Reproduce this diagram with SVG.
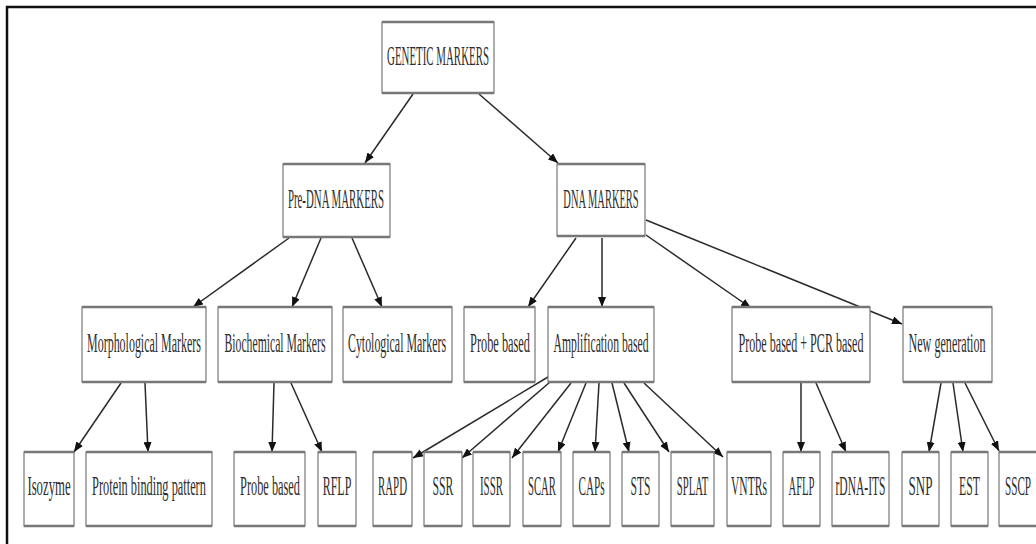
<svg xmlns="http://www.w3.org/2000/svg" width="1036" height="544" viewBox="0 0 1036 544">
<style>
.frame{fill:none;stroke:#111;stroke-width:2.5}
.box{fill:#fff;stroke:#777;stroke-width:1.2}
.edge{stroke:#777;stroke-width:2.6}
.lbl{font-family:"Liberation Serif",serif;font-size:28px;fill:#2e2e2e;text-anchor:middle}
.conn line{stroke:#2a2a2a;stroke-width:1.5;marker-end:url(#ah)}
</style>
<defs>
<marker id="ah" markerUnits="userSpaceOnUse" markerWidth="10" markerHeight="8" viewBox="0 0 10 8" refX="10" refY="4" orient="auto">
<path d="M0,0 L10,4 L0,8 z" fill="#111"/>
</marker>
</defs>
<rect x="0" y="0" width="1036" height="544" fill="#fff"/>
<rect class="frame" x="7" y="7" width="1045" height="560"/>

<g id="connectors" class="conn">
<line x1="413" y1="94" x2="365" y2="163"/>
<line x1="479" y1="94" x2="558" y2="163"/>
<line x1="289" y1="238" x2="193" y2="307"/>
<line x1="321" y1="238" x2="292" y2="307"/>
<line x1="352" y1="238" x2="382" y2="307"/>
<line x1="576" y1="238" x2="528" y2="307"/>
<line x1="602" y1="238" x2="602" y2="307"/>
<line x1="646" y1="235" x2="751" y2="308"/>
<line x1="646" y1="220" x2="902" y2="324"/>
<line x1="121" y1="383" x2="74" y2="452"/>
<line x1="145" y1="383" x2="148" y2="452"/>
<line x1="274" y1="383" x2="272" y2="452"/>
<line x1="291" y1="383" x2="322" y2="452"/>
<line x1="548" y1="377" x2="413" y2="458"/>
<line x1="550" y1="382" x2="462" y2="458"/>
<line x1="571" y1="383" x2="512" y2="458"/>
<line x1="586" y1="383" x2="558" y2="452"/>
<line x1="599" y1="383" x2="595" y2="452"/>
<line x1="612" y1="383" x2="629" y2="452"/>
<line x1="624" y1="383" x2="669" y2="452"/>
<line x1="644" y1="383" x2="723" y2="457"/>
<line x1="801" y1="383" x2="801" y2="452"/>
<line x1="816" y1="383" x2="846" y2="452"/>
<line x1="941" y1="383" x2="929" y2="452"/>
<line x1="953" y1="383" x2="963" y2="452"/>
<line x1="965" y1="383" x2="999" y2="451"/>
</g>

<g id="n-genetic"><rect class="box" x="382" y="22" width="112" height="71"/><line class="edge" x1="382" y1="22" x2="494" y2="22"/><line class="edge" x1="382" y1="93" x2="494" y2="93"/><text class="lbl" transform="translate(438,65) scale(0.389,1)">GENETIC MARKERS</text></g>
<g id="n-predna"><rect class="box" x="283" y="164" width="107" height="73"/><line class="edge" x1="283" y1="164" x2="390" y2="164"/><line class="edge" x1="283" y1="237" x2="390" y2="237"/><text class="lbl" transform="translate(336,208) scale(0.388,1)">Pre-DNA MARKERS</text></g>
<g id="n-dna"><rect class="box" x="557" y="164" width="88" height="72"/><line class="edge" x1="557" y1="164" x2="645" y2="164"/><line class="edge" x1="557" y1="236" x2="645" y2="236"/><text class="lbl" transform="translate(601,208) scale(0.374,1)">DNA MARKERS</text></g>

<g id="n-morph"><rect class="box" x="82" y="307" width="124" height="75"/><line class="edge" x1="82" y1="307" x2="206" y2="307"/><line class="edge" x1="82" y1="382" x2="206" y2="382"/><text class="lbl" transform="translate(144,352) scale(0.427,1)">Morphological Markers</text></g>
<g id="n-bio"><rect class="box" x="218" y="307" width="114" height="75"/><line class="edge" x1="218" y1="307" x2="332" y2="307"/><line class="edge" x1="218" y1="382" x2="332" y2="382"/><text class="lbl" transform="translate(275,352) scale(0.418,1)">Biochemical Markers</text></g>
<g id="n-cyto"><rect class="box" x="343" y="307" width="109" height="75"/><line class="edge" x1="343" y1="307" x2="452" y2="307"/><line class="edge" x1="343" y1="382" x2="452" y2="382"/><text class="lbl" transform="translate(397,352) scale(0.425,1)">Cytological Markers</text></g>
<g id="n-probe1"><rect class="box" x="464" y="307" width="71" height="75"/><line class="edge" x1="464" y1="307" x2="535" y2="307"/><line class="edge" x1="464" y1="382" x2="535" y2="382"/><text class="lbl" transform="translate(500,352) scale(0.441,1)">Probe based</text></g>
<g id="n-amp"><rect class="box" x="548" y="307" width="106" height="75"/><line class="edge" x1="548" y1="307" x2="654" y2="307"/><line class="edge" x1="548" y1="382" x2="654" y2="382"/><text class="lbl" transform="translate(601,352) scale(0.417,1)">Amplification based</text></g>
<g id="n-probepcr"><rect class="box" x="732" y="307" width="138" height="75"/><line class="edge" x1="732" y1="307" x2="870" y2="307"/><line class="edge" x1="732" y1="382" x2="870" y2="382"/><text class="lbl" transform="translate(801,352) scale(0.432,1)">Probe based + PCR based</text></g>
<g id="n-newgen"><rect class="box" x="903" y="307" width="89" height="75"/><line class="edge" x1="903" y1="307" x2="992" y2="307"/><line class="edge" x1="903" y1="382" x2="992" y2="382"/><text class="lbl" transform="translate(947,352) scale(0.433,1)">New generation</text></g>

<g id="n-isozyme"><rect class="box" x="24" y="452" width="50" height="74"/><line class="edge" x1="24" y1="452" x2="74" y2="452"/><line class="edge" x1="24" y1="526" x2="74" y2="526"/><text class="lbl" transform="translate(49,495) scale(0.455,1)">Isozyme</text></g>
<g id="n-protein"><rect class="box" x="86" y="452" width="126" height="74"/><line class="edge" x1="86" y1="452" x2="212" y2="452"/><line class="edge" x1="86" y1="526" x2="212" y2="526"/><text class="lbl" transform="translate(149,495) scale(0.441,1)">Protein binding pattern</text></g>
<g id="n-probe2"><rect class="box" x="234" y="452" width="71" height="74"/><line class="edge" x1="234" y1="452" x2="305" y2="452"/><line class="edge" x1="234" y1="526" x2="305" y2="526"/><text class="lbl" transform="translate(270,495) scale(0.441,1)">Probe based</text></g>
<g id="n-rflp"><rect class="box" x="318" y="452" width="38" height="74"/><line class="edge" x1="318" y1="452" x2="356" y2="452"/><line class="edge" x1="318" y1="526" x2="356" y2="526"/><text class="lbl" transform="translate(337,495) scale(0.427,1)">RFLP</text></g>
<g id="n-rapd"><rect class="box" x="373" y="452" width="39" height="74"/><line class="edge" x1="373" y1="452" x2="412" y2="452"/><line class="edge" x1="373" y1="526" x2="412" y2="526"/><text class="lbl" transform="translate(392.5,495) scale(0.39,1)">RAPD</text></g>
<g id="n-ssr"><rect class="box" x="424" y="452" width="38" height="74"/><line class="edge" x1="424" y1="452" x2="462" y2="452"/><line class="edge" x1="424" y1="526" x2="462" y2="526"/><text class="lbl" transform="translate(443,495) scale(0.418,1)">SSR</text></g>
<g id="n-issr"><rect class="box" x="473" y="452" width="37" height="74"/><line class="edge" x1="473" y1="452" x2="510" y2="452"/><line class="edge" x1="473" y1="526" x2="510" y2="526"/><text class="lbl" transform="translate(491.5,495) scale(0.39,1)">ISSR</text></g>
<g id="n-scar"><rect class="box" x="523" y="452" width="38" height="74"/><line class="edge" x1="523" y1="452" x2="561" y2="452"/><line class="edge" x1="523" y1="526" x2="561" y2="526"/><text class="lbl" transform="translate(542,495) scale(0.381,1)">SCAR</text></g>
<g id="n-caps"><rect class="box" x="573" y="452" width="37" height="74"/><line class="edge" x1="573" y1="452" x2="610" y2="452"/><line class="edge" x1="573" y1="526" x2="610" y2="526"/><text class="lbl" transform="translate(591.5,495) scale(0.4,1)">CAPs</text></g>
<g id="n-sts"><rect class="box" x="622" y="452" width="37" height="74"/><line class="edge" x1="622" y1="452" x2="659" y2="452"/><line class="edge" x1="622" y1="526" x2="659" y2="526"/><text class="lbl" transform="translate(640.5,495) scale(0.413,1)">STS</text></g>
<g id="n-splat"><rect class="box" x="671" y="452" width="43" height="74"/><line class="edge" x1="671" y1="452" x2="714" y2="452"/><line class="edge" x1="671" y1="526" x2="714" y2="526"/><text class="lbl" transform="translate(692.5,495) scale(0.381,1)">SPLAT</text></g>
<g id="n-vntrs"><rect class="box" x="727" y="452" width="44" height="74"/><line class="edge" x1="727" y1="452" x2="771" y2="452"/><line class="edge" x1="727" y1="526" x2="771" y2="526"/><text class="lbl" transform="translate(749,495) scale(0.413,1)">VNTRs</text></g>
<g id="n-aflp"><rect class="box" x="783" y="452" width="37" height="74"/><line class="edge" x1="783" y1="452" x2="820" y2="452"/><line class="edge" x1="783" y1="526" x2="820" y2="526"/><text class="lbl" transform="translate(801.5,495) scale(0.381,1)">AFLP</text></g>
<g id="n-rdna"><rect class="box" x="832" y="452" width="57" height="74"/><line class="edge" x1="832" y1="452" x2="889" y2="452"/><line class="edge" x1="832" y1="526" x2="889" y2="526"/><text class="lbl" transform="translate(860.5,495) scale(0.412,1)">rDNA-ITS</text></g>
<g id="n-snp"><rect class="box" x="902" y="452" width="37" height="74"/><line class="edge" x1="902" y1="452" x2="939" y2="452"/><line class="edge" x1="902" y1="526" x2="939" y2="526"/><text class="lbl" transform="translate(920.5,495) scale(0.465,1)">SNP</text></g>
<g id="n-est"><rect class="box" x="951" y="452" width="37" height="74"/><line class="edge" x1="951" y1="452" x2="988" y2="452"/><line class="edge" x1="951" y1="526" x2="988" y2="526"/><text class="lbl" transform="translate(969.5,495) scale(0.418,1)">EST</text></g>
<g id="n-sscp"><rect class="box" x="999" y="452" width="45" height="74"/><line class="edge" x1="999" y1="452" x2="1044" y2="452"/><line class="edge" x1="999" y1="526" x2="1044" y2="526"/><text class="lbl" transform="translate(1018,495) scale(0.4,1)">SSCP</text></g>
</svg>
